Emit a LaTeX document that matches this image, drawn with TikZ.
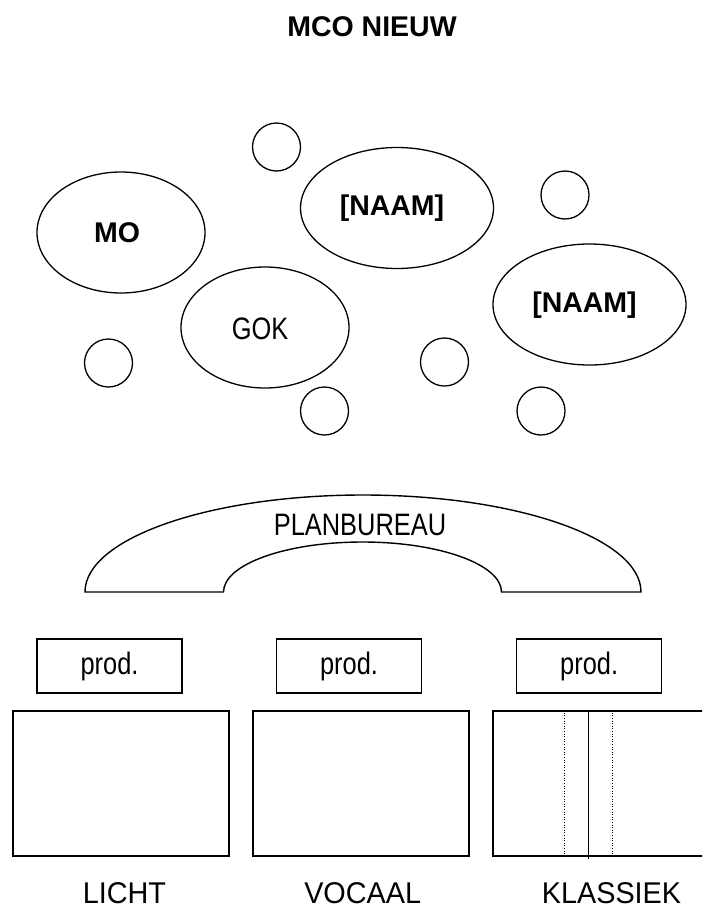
\documentclass[tikz,border=0pt]{standalone}
\usepackage{fontspec}
\setmainfont{Liberation Sans}
\newfontfamily\narrowfont[FakeStretch=0.82]{Liberation Sans}
\newfontfamily\labelfont[FakeStretch=0.96]{Liberation Sans}
\usetikzlibrary{shapes.geometric,positioning}

\tikzset{
  blob/.style={draw,ellipse,line width=1.3pt,inner sep=0pt,minimum width=#1,minimum height=121pt},
  blob/.default=168pt,
  bubble/.style={draw,circle,line width=1.3pt,inner sep=0pt,minimum size=48pt},
  boldtext/.style={anchor=base,font=\bfseries\fontsize{28.5}{34}\selectfont},
  narrowtext/.style={anchor=base,font=\narrowfont\fontsize{31}{36}\selectfont},
  prodbox/.style={draw,line width=1.5pt,minimum width=145pt,minimum height=54pt,inner sep=0pt,
    font=\narrowfont\fontsize{31}{36}\selectfont},
  genrebox/.style={draw,line width=1.6pt,minimum width=216pt,minimum height=145pt,inner sep=0pt},
  genretext/.style={anchor=base,inner ysep=0pt,text depth=0pt,font=\labelfont\fontsize{30}{36}\selectfont}
}

\begin{document}
\begin{tikzpicture}[x=1pt,y=-1pt]
  \useasboundingbox (0,0) rectangle (702,908);
  \clip (0,0) rectangle (702,908);

  % title
  \node[boldtext] (title) at (372,36) {MCO NIEUW};

  % groups
  \node[blob] (mo) at (121,232.5) {};
  \node[boldtext] (motext) at (117,242.7) {MO};
  \node[blob=193pt] (naamA) at (397,208) {};
  \node[boldtext] (naamAtext) at (392,215) {[NAAM]};
  \node[blob=193pt] (naamB) at (589.5,304.5) {};
  \node[boldtext] (naamBtext) at (584.5,312) {[NAAM]};
  \node[blob] (gok) at (265,327.5) {};
  \node[narrowtext] (goktext) at (260,339.3) {GOK};

  % small circles
  \node[bubble] (c1) at (276.5,147) {};
  \node[bubble] (c2) at (565,195) {};
  \node[bubble] (c3) at (108.5,363) {};
  \node[bubble] (c4) at (444.5,362) {};
  \node[bubble] (c5) at (324.5,411) {};
  \node[bubble] (c6) at (541,411) {};

  % planbureau
  \draw[line width=1.4pt] (85,592) arc[start angle=180,end angle=360,x radius=278,y radius=97]
    -- (501.5,592) arc[start angle=0,end angle=-180,x radius=139,y radius=50] -- cycle;
  \node[narrowtext] (plan) at (360,535) {PLANBUREAU};

  % productie
  \node[prodbox] (prodL) at (109.5,666) {prod.};
  \node[prodbox] (prodV) at (349,666) {prod.};
  \node[prodbox] (prodK) at (589.2,666) {prod.};

  % genres
  \node[genrebox] (licht) at (121,783.5) {};
  \node[genrebox] (vocaal) at (361,783.5) {};
  \node[genrebox] (klassiek) at (601,783.5) {};
  \draw[line width=1.3pt] ([xshift=96pt]klassiek.north west) -- ([xshift=96pt,yshift=-2pt]klassiek.south west);
  \draw[line width=0.9pt,dash pattern=on 1pt off 1.6pt] ([xshift=72pt]klassiek.north west) -- ([xshift=72pt]klassiek.south west);
  \draw[line width=0.9pt,dash pattern=on 1pt off 1.6pt] ([xshift=120pt]klassiek.north west) -- ([xshift=120pt]klassiek.south west);

  \node[genretext] (lichttext) at (124.4,903) {LICHT};
  \node[genretext] (vocaaltext) at (362.7,903) {VOCAAL};
  \node[genretext] (klassiektext) at (611.5,903) {KLASSIEK};
\end{tikzpicture}
\end{document}
